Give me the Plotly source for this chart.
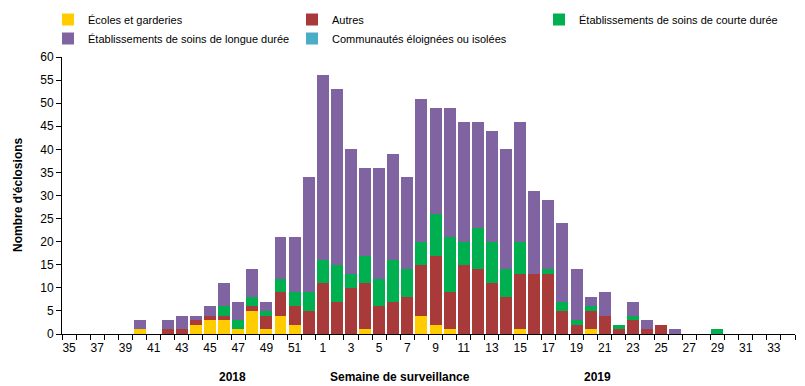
import plotly.graph_objects as go

weeks = [str(w) for w in range(35, 53)] + [str(w) for w in range(1, 35)]

# values per week (35..52 of 2018, then 1..34 of 2019)
ecoles = [0,0,0,0,0,1,0,0,0,2,3,3,1,5,1,4,2,0,
          0,0,0,1,0,0,0,4,2,1,0,0,0,0,1,0,0,0,0,1,0,0,0,0,0,0,0,0,0,0,0,0,0,0]
autres = [0,0,0,0,0,0,0,1,1,1,1,1,0,1,3,5,4,5,
          11,7,10,10,6,7,8,11,15,8,15,14,11,8,12,13,13,5,2,4,4,1,3,1,2,0,0,0,0,0,0,0,0,0]
courte = [0,0,0,0,0,0,0,0,0,0,0,2,2,2,1,3,3,4,
          5,8,3,6,6,9,6,5,9,12,5,9,9,6,7,0,1,2,1,1,0,1,1,0,0,0,0,0,1,0,0,0,0,0]
longue = [0,0,0,0,0,2,0,2,3,1,2,5,4,6,2,9,12,25,
          40,38,27,19,24,23,20,31,23,28,26,23,24,26,26,18,15,17,11,2,5,0,3,2,0,1,0,0,0,0,0,0,0,0]
communautes = [0]*52

series = [
    ("Écoles et garderies", ecoles, "#FFCC00", "legend"),
    ("Autres", autres, "#A93A3A", "legend2"),
    ("Établissements de soins de courte durée", courte, "#00B050", "legend3"),
    ("Établissements de soins de longue durée", longue, "#8064A2", "legend"),
    ("Communautés éloignées ou isolées", communautes, "#4BACC6", "legend2"),
]

fig = go.Figure()
for name, vals, col, lg in series:
    fig.add_trace(go.Bar(x=weeks, y=vals, name=name, legend=lg,
                         marker=dict(color=col, line=dict(width=0))))

ticktext = [w if i % 2 == 0 else "" for i, w in enumerate(weeks)]

# page body has an 8px margin: work in figure coords = screen - 8
OFF = 8
W, H = 805 - OFF, 386 - OFF
L, R, T, B = 62 - OFF, 10, 57 - OFF, 52
pw = W - L - R
ph = H - T - B
def px(xs):
    return (xs - OFF - L) / pw
def py(ys):
    return (H - B - (ys - OFF)) / ph

def leg(xs):
    return dict(orientation="v", x=px(xs), xanchor="left", y=py(5), yanchor="top",
                font=dict(size=11), itemwidth=30, tracegroupgap=0,
                traceorder="normal", bgcolor="rgba(0,0,0,0)")

fig.update_layout(
    barmode="stack",
    bargap=0.15,
    width=W, height=H,
    margin=dict(l=L, r=R, t=T, b=B, autoexpand=False),
    plot_bgcolor="white", paper_bgcolor="white",
    font=dict(family="Liberation Sans, Arial, sans-serif", size=12, color="black"),
    legend=leg(48),
    legend2=leg(292),
    legend3=leg(539),
    xaxis=dict(type="category", categoryorder="array", categoryarray=weeks,
               tickvals=weeks, ticktext=ticktext, tickson="boundaries",
               ticks="outside", ticklen=5, tickcolor="black", ticklabelstandoff=3,
               showline=True, linecolor="black", linewidth=1,
               showgrid=False, tickangle=0, tickfont=dict(size=12)),
    yaxis=dict(range=[0, 60], dtick=5, ticks="outside", ticklen=5, tickcolor="black",
               showline=True, linecolor="black", linewidth=1, showgrid=False,
               zeroline=False, tickfont=dict(size=12)),
    annotations=[
        dict(text="<b>Semaine de surveillance</b>", x=px(400), y=py(377), xref="paper", yref="paper",
             xanchor="center", yanchor="middle", showarrow=False, font=dict(size=12)),
        dict(text="<b>2018</b>", x=px(232), y=py(377), xref="paper", yref="paper",
             xanchor="center", yanchor="middle", showarrow=False, font=dict(size=12)),
        dict(text="<b>2019</b>", x=px(597), y=py(377), xref="paper", yref="paper",
             xanchor="center", yanchor="middle", showarrow=False, font=dict(size=12)),
        dict(text="<b>Nombre d'éclosions</b>", x=px(18), y=py(195), xref="paper", yref="paper",
             xanchor="center", yanchor="middle", textangle=-90, showarrow=False, font=dict(size=12)),
    ],
)

fig.write_html("out.html")
